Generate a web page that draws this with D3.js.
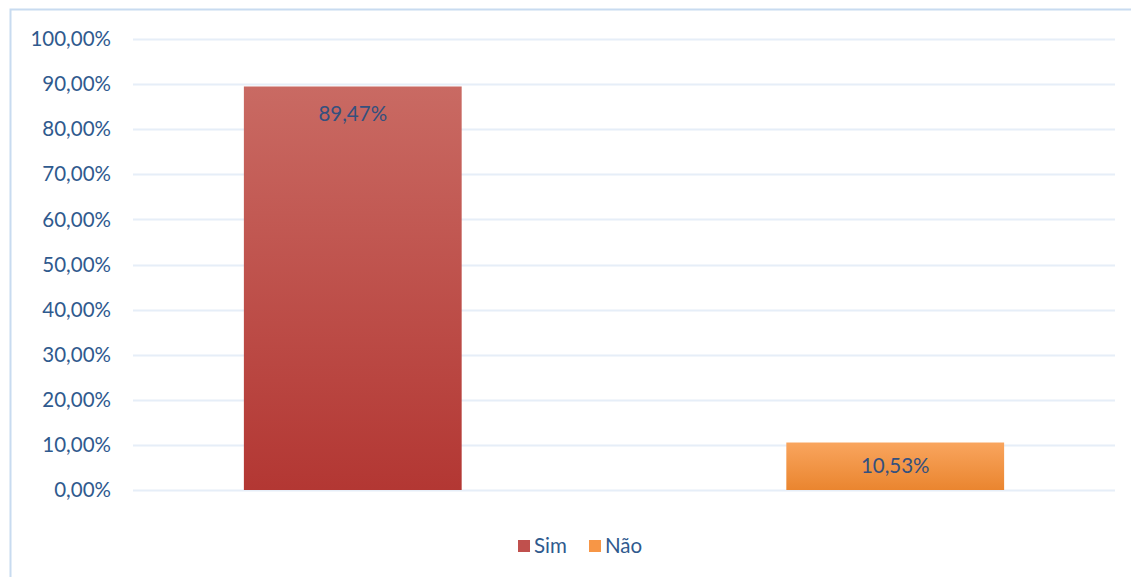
<!DOCTYPE html>
<html>
<head>
<meta charset="utf-8">
<script src="https://cdn.jsdelivr.net/npm/d3@7"></script>
<style>
  body { margin: 0; background: #fff; }
  text { font-family: Lato, "Open Sans", sans-serif; }
</style>
</head>
<body>
<div id="chart-area"></div>
<script>
// chart data
var series = ["Sim", "Não"];
var values = [0.8947, 0.1053];
var yTicks = [0, 0.1, 0.2, 0.3, 0.4, 0.5, 0.6, 0.7, 0.8, 0.9, 1.0];

var width = 1131;
var height = 577;
var margin = {top: 39, right: 16, bottom: 87, left: 133};

var svg = d3.select("#chart-area").append("svg")
  .attr("width", width)
  .attr("height", height);

var defs = svg.append("defs");
var grads = [["gradSim", "#c96a63", "#b33733"], ["gradNao", "#f9a55e", "#ea852f"]];
grads.forEach(function(gd) {
  var lg = defs.append("linearGradient").attr("id", gd[0])
    .attr("x1", 0).attr("y1", 0).attr("x2", 0).attr("y2", 1);
  lg.append("stop").attr("offset", "0%").attr("stop-color", gd[1]);
  lg.append("stop").attr("offset", "100%").attr("stop-color", gd[2]);
});
var legendColors = ["#c0504d", "#f79646"];

// outer frame
svg.append("rect")
  .attr("x", 10.5).attr("y", 9.5)
  .attr("width", width + 20).attr("height", height + 20)
  .attr("fill", "none")
  .attr("stroke", "#c8dbf0")
  .attr("stroke-width", 2);

var x = d3.scaleBand()
  .domain(series)
  .range([margin.left, width - margin.right])
  .paddingInner(0.5985)
  .paddingOuter(0.2044);

var y = d3.scaleLinear()
  .domain([0, 1])
  .range([height - margin.bottom, margin.top]);

var fmt = function(v) { return d3.format(".2f")(v * 100).replace(".", ",") + "%"; };

// gridlines
svg.append("g").selectAll("line").data(yTicks).enter().append("line")
  .attr("x1", margin.left).attr("x2", width - margin.right)
  .attr("y1", function(d) { return Math.round(y(d)) + 0.5; })
  .attr("y2", function(d) { return Math.round(y(d)) + 0.5; })
  .attr("stroke", "#e6eef8")
  .attr("stroke-width", 2);

// y axis labels
svg.append("g").selectAll("text").data(yTicks).enter().append("text")
  .attr("x", 111)
  .attr("y", function(d) { return y(d); })
  .attr("dy", "0.35em")
  .attr("text-anchor", "end")
  .attr("font-size", "20.5px")
  .attr("fill", "#2f5a8e")
  .text(fmt);

// bars
svg.append("g").selectAll("rect").data(values).enter().append("rect")
  .attr("x", function(d, i) { return x(series[i]); })
  .attr("y", function(d) { return y(d); })
  .attr("width", x.bandwidth())
  .attr("height", function(d) { return y(0) - y(d); })
  .attr("fill", function(d, i) { return "url(#" + grads[i][0] + ")"; });

// data labels
svg.append("g").selectAll("text").data(values).enter().append("text")
  .attr("x", function(d, i) { return x(series[i]) + x.bandwidth() / 2; })
  .attr("y", function(d) { return d > 0.5 ? y(d) + 27 : (y(d) + y(0)) / 2; })
  .attr("dy", "0.35em")
  .attr("text-anchor", "middle")
  .attr("font-size", "20.5px")
  .attr("fill", "#34507e")
  .text(fmt);

// legend
var legendX = [518, 589];
var legend = svg.append("g");
series.forEach(function(s, i) {
  var row = legend.append("g").attr("transform", "translate(" + legendX[i] + ",540)");
  row.append("rect").attr("width", 12).attr("height", 12).attr("fill", legendColors[i]);
  row.append("text")
    .attr("x", 16).attr("y", 6).attr("dy", "0.35em")
    .attr("font-size", "20.5px")
    .attr("fill", "#2f5a8e")
    .text(s);
});
</script>
</body>
</html>
